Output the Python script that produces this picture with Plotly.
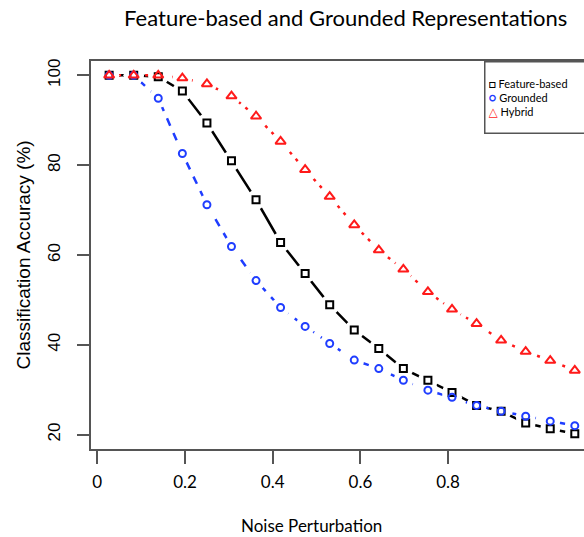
import plotly.graph_objects as go

# Noise positions as drawn on the axis, and accuracies (%)
noise = [0.027, 0.083, 0.139, 0.194, 0.250, 0.306, 0.362, 0.418, 0.474, 0.530,
         0.586, 0.642, 0.698, 0.754, 0.809, 0.865, 0.921, 0.977, 1.033, 1.089]
feature_based = [100, 100, 99.7, 96.5, 89.4, 81.0, 72.3, 62.8, 55.9, 48.9,
                 43.3, 39.2, 34.7, 32.1, 29.4, 26.5, 25.2, 22.6, 21.3, 20.2]
grounded = [100, 100, 94.9, 82.6, 71.2, 61.9, 54.3, 48.3, 44.1, 40.3,
            36.6, 34.7, 32.1, 29.9, 28.3, 26.5, 25.2, 24.1, 23.0, 22.0]
hybrid = [100, 100, 100, 99.4, 98.1, 95.4, 90.9, 85.3, 79.0, 73.0,
          66.7, 61.1, 56.8, 51.8, 47.9, 44.7, 41.0, 38.5, 36.5, 34.3]

x_tick_vals = [0, 0.2, 0.4, 0.6, 0.8]
x_tick_text = ["0", "0.2", "0.4", "0.6", "0.8"]
y_tick_vals = [20, 40, 60, 80, 100]

series = [
    ("Feature-based", feature_based, "black", "solid", "square-open", 7),
    ("Grounded", grounded, "#1f3dff", "8px,8px", "circle-open", 7),
    ("Hybrid", hybrid, "#ff1a1a", "3px,6px", "triangle-up-open", 9),
]

fig = go.Figure()
# lines
for name, vals, col, dash, sym, sz in series:
    fig.add_trace(go.Scatter(x=noise, y=vals, mode="lines", name=name,
                             line=dict(color=col, width=2.5, dash=dash),
                             showlegend=False, hoverinfo="skip"))
# gaps around points (R type="b" look)
for name, vals, col, dash, sym, sz in series:
    fig.add_trace(go.Scatter(x=noise, y=vals, mode="markers",
                             marker=dict(symbol="circle", size=20, color="white",
                                         line=dict(width=0)),
                             showlegend=False, hoverinfo="skip"))
# markers
for name, vals, col, dash, sym, sz in series:
    fig.add_trace(go.Scatter(x=noise, y=vals, mode="markers", name=name,
                             marker=dict(symbol=sym, size=sz, color=col,
                                         line=dict(color=col, width=2)),
                             showlegend=False))

axis_col = "#555555"
fig.update_layout(
    width=584, height=537,
    margin=dict(l=91, r=0, t=61, b=88),
    paper_bgcolor="white", plot_bgcolor="white",
    showlegend=False,
    title=dict(text="Feature-based and Grounded Representations",
               x=0.592, xanchor="center", y=0.966, yanchor="middle",
               font=dict(family="Lato", size=22, color="black")),
    xaxis=dict(range=[-0.0144, 1.110], tickvals=x_tick_vals, ticktext=x_tick_text,
               showgrid=False, zeroline=False, showline=True, mirror=True,
               linecolor=axis_col, linewidth=1.5,
               ticks="outside", ticklen=13, tickwidth=1.5, tickcolor=axis_col,
               ticklabelstandoff=4,
               tickfont=dict(family="Lato", size=17, color="black")),
    yaxis=dict(range=[16.8, 103.2], tickvals=y_tick_vals,
               showgrid=False, zeroline=False, showline=True, mirror=False,
               linecolor=axis_col, linewidth=1.5,
               ticks="outside", ticklen=12, tickwidth=1.5, tickcolor=axis_col,
               tickangle=-90, ticklabelstandoff=10,
               tickfont=dict(family="Liberation Sans Narrow, Liberation Sans", size=17, color="black")),
    annotations=[
        dict(text="Noise Perturbation", xref="paper", yref="paper",
             x=0.448, y=-0.198, xanchor="center", yanchor="middle", showarrow=False,
             font=dict(family="Lato", size=17, color="black")),
        dict(text="Classification Accuracy (%)", xref="paper", yref="paper",
             x=-0.137, y=0.5, xanchor="center", yanchor="middle", showarrow=False,
             textangle=-90,
             font=dict(family="Liberation Sans", size=19, color="black")),
        dict(text=("<b><span style='color:black;font-size:12px'>□</span></b> Feature-based<br>"
                   "<b><span style='color:#1f3dff;font-size:12px'>○</span></b> Grounded<br>"
                   "<b><span style='color:#ff1a1a;font-size:12px'>△</span></b> Hybrid"),
             xref="paper", yref="paper", x=0.797, y=1, xanchor="left", yanchor="top",
             showarrow=False, align="left", width=140, height=64,
             bordercolor=axis_col, borderwidth=1.5, borderpad=3, bgcolor="white",
             font=dict(family="Lato, DejaVu Sans", size=11, color="black")),
    ],
)

fig.write_html("out.html")
